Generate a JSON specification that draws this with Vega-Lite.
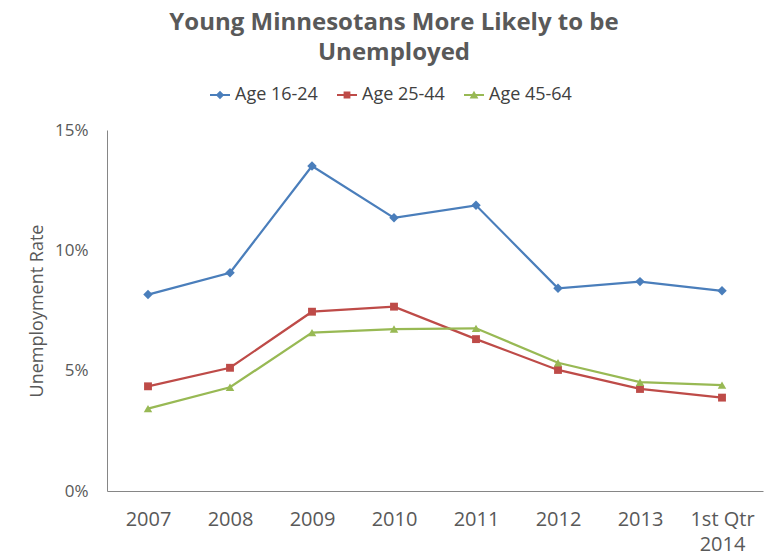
{
  "$schema": "https://vega.github.io/schema/vega-lite/v6.json",
  "autosize": {"type": "none"},
  "width": 656,
  "height": 361,
  "padding": {"left": 107, "top": 130, "right": 13, "bottom": 69},
  "background": "white",
  "title": {
    "text": ["Young Minnesotans More Likely to be", "Unemployed"],
    "anchor": "middle",
    "frame": "group",
    "dx": -41,
    "font": "Open Sans",
    "fontSize": 24,
    "fontWeight": "bold",
    "color": "#595959",
    "lineHeight": 30,
    "offset": 20
  },
  "data": {
    "values": [
      {"period": "2007", "series": "Age 16-24", "rate": 0.0816},
      {"period": "2008", "series": "Age 16-24", "rate": 0.0907},
      {"period": "2009", "series": "Age 16-24", "rate": 0.1350},
      {"period": "2010", "series": "Age 16-24", "rate": 0.1135},
      {"period": "2011", "series": "Age 16-24", "rate": 0.1187},
      {"period": "2012", "series": "Age 16-24", "rate": 0.0842},
      {"period": "2013", "series": "Age 16-24", "rate": 0.0870},
      {"period": "1st Qtr 2014", "series": "Age 16-24", "rate": 0.0832},
      {"period": "2007", "series": "Age 25-44", "rate": 0.0435},
      {"period": "2008", "series": "Age 25-44", "rate": 0.0512},
      {"period": "2009", "series": "Age 25-44", "rate": 0.0745},
      {"period": "2010", "series": "Age 25-44", "rate": 0.0766},
      {"period": "2011", "series": "Age 25-44", "rate": 0.0631},
      {"period": "2012", "series": "Age 25-44", "rate": 0.0503},
      {"period": "2013", "series": "Age 25-44", "rate": 0.0424},
      {"period": "1st Qtr 2014", "series": "Age 25-44", "rate": 0.0388},
      {"period": "2007", "series": "Age 45-64", "rate": 0.0342},
      {"period": "2008", "series": "Age 45-64", "rate": 0.0431},
      {"period": "2009", "series": "Age 45-64", "rate": 0.0658},
      {"period": "2010", "series": "Age 45-64", "rate": 0.0673},
      {"period": "2011", "series": "Age 45-64", "rate": 0.0676},
      {"period": "2012", "series": "Age 45-64", "rate": 0.0533},
      {"period": "2013", "series": "Age 45-64", "rate": 0.0452},
      {"period": "1st Qtr 2014", "series": "Age 45-64", "rate": 0.0440}
    ]
  },
  "encoding": {
    "x": {
      "field": "period",
      "type": "ordinal",
      "sort": ["2007", "2008", "2009", "2010", "2011", "2012", "2013", "1st Qtr 2014"],
      "scale": {"paddingInner": 0, "paddingOuter": 0},
      "axis": {
        "title": null,
        "labelAngle": 0,
        "labelExpr": "datum.value === '1st Qtr 2014' ? ['1st Qtr', '2014'] : datum.value",
        "labelFontSize": 20,
        "labelLineHeight": 25,
        "labelPadding": 18,
        "labelBaseline": "top",
        "ticks": false,
        "tickSize": 0,
        "grid": false
      }
    },
    "y": {
      "field": "rate",
      "type": "quantitative",
      "scale": {"domain": [0, 0.15], "nice": false},
      "axis": {
        "title": "Unemployment Rate",
        "values": [0, 0.05, 0.1, 0.15],
        "format": ".0%",
        "labelFontSize": 17,
        "labelPadding": 19,
        "ticks": false,
        "tickSize": 0,
        "grid": false,
        "titleFontSize": 18,
        "titleFontWeight": "normal",
        "titlePadding": 8
      }
    },
    "color": {
      "field": "series",
      "type": "nominal",
      "scale": {
        "domain": ["Age 16-24", "Age 25-44", "Age 45-64"],
        "range": ["#4A7EBB", "#BE4B48", "#98B954"]
      },
      "legend": {
        "title": null,
        "orient": "none",
        "direction": "horizontal",
        "legendX": 103,
        "legendY": -45,
        "symbolSize": 400,
        "symbolStrokeWidth": 0,
        "symbolOpacity": 1,
        "labelFontSize": 18,
        "labelColor": "#404040",
        "labelOffset": 5,
        "columnPadding": 19,
        "padding": 0,
        "encode": {
          "symbols": {
            "update": {
              "shape": {"signal": "datum.value === 'Age 16-24' ? 'M-1,-0.1L1,-0.1L1,0.1L-1,0.1M0,-0.42L0.42,0L0,0.42L-0.42,0Z' : datum.value === 'Age 25-44' ? 'M-1,-0.1L1,-0.1L1,0.1L-1,0.1M-0.34,-0.34L0.34,-0.34L0.34,0.34L-0.34,0.34Z' : 'M-1,-0.1L1,-0.1L1,0.1L-1,0.1M0,-0.42L0.44,0.34L-0.44,0.34Z'"},
              "size": {"value": 400},
              "fill": {"scale": "color", "field": "value"},
              "fillOpacity": {"value": 1},
              "strokeWidth": {"value": 0},
              "opacity": {"value": 1}
            }
          }
        }
      }
    }
  },
  "layer": [
    {
      "mark": {"type": "line", "strokeWidth": 2.25}
    },
    {
      "transform": [{"filter": "datum.series === 'Age 16-24'"}],
      "mark": {"type": "point", "filled": true, "opacity": 1, "shape": "diamond", "size": 90}
    },
    {
      "transform": [{"filter": "datum.series === 'Age 25-44'"}],
      "mark": {"type": "point", "filled": true, "opacity": 1, "shape": "square", "size": 62}
    },
    {
      "transform": [{"filter": "datum.series === 'Age 45-64'"}],
      "mark": {"type": "point", "filled": true, "opacity": 1, "shape": "triangle-up", "size": 72}
    }
  ],
  "config": {
    "font": "Open Sans",
    "view": {"stroke": null},
    "axis": {
      "domainColor": "#868686",
      "domainWidth": 1,
      "labelColor": "#595959",
      "titleColor": "#595959",
      "labelFont": "Open Sans",
      "titleFont": "Open Sans"
    },
    "legend": {"labelFont": "Open Sans"}
  }
}
